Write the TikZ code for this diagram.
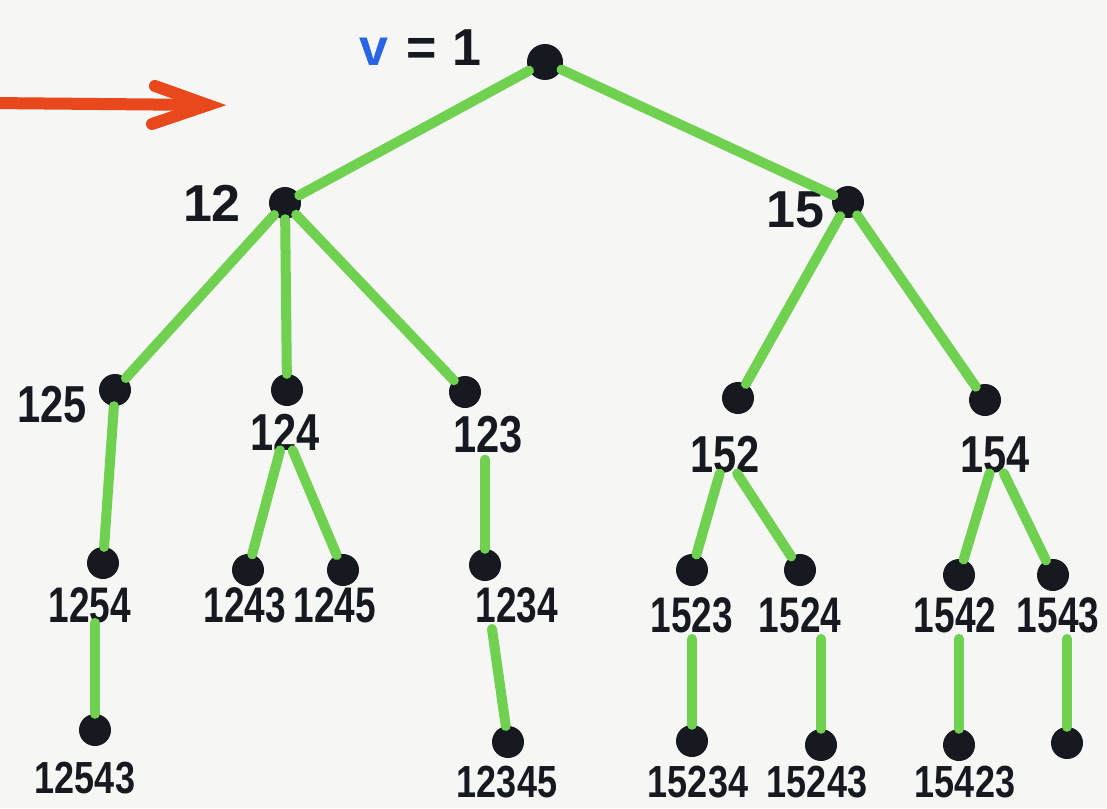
\documentclass[tikz,border=0pt]{standalone}
\usepackage{fontspec}
\setmainfont{Liberation Sans}
\definecolor{edgegreen}{RGB}{112,208,80}
\definecolor{vblue}{RGB}{40,100,230}
\definecolor{arrred}{RGB}{232,72,28}
\definecolor{paper}{RGB}{246,246,244}
\definecolor{ink}{RGB}{22,26,32}
\newcommand\sq[1]{\scalebox{0.8}[1]{#1}}
\newcommand\sqn[1]{\scalebox{0.74}[1]{#1}}
\tikzset{
  dot/.style={circle,fill=ink,inner sep=0pt,minimum size=32pt},
  rootdot/.style={dot,minimum size=36pt},
  lab/.style={font=\bfseries\fontsize{50}{50}\selectfont,inner sep=0pt,text=ink},
  leaflab/.style={font=\bfseries\fontsize{45}{45}\selectfont,inner sep=0pt,text=ink},
  bigl/.style={font=\bfseries\fontsize{52}{52}\selectfont,inner sep=0pt,text=ink},
  edge/.style={draw=edgegreen,line width=10pt,line cap=round},
  redline/.style={draw=arrred,line width=12pt,line cap=round}
}
\begin{document}
\begin{tikzpicture}[x=1pt,y=-1pt]
\fill[paper] (0,0) rectangle (1107,808);
\useasboundingbox (0,0) rectangle (1107,808);
% dots
\node[rootdot] (root) at (545,62) {};
\node[dot] (n12) at (285,203) {};
\node[dot] (n15) at (848,202) {};
\node[dot] (n125) at (115,390) {};
\node[dot] (n124) at (287,390) {};
\node[dot] (n123) at (465,392) {};
\node[dot] (n152) at (738,398) {};
\node[dot] (n154) at (985,400) {};
\node[dot] (n1254) at (103,563) {};
\node[dot] (n1243) at (248,570) {};
\node[dot] (n1245) at (343,570) {};
\node[dot] (n1234) at (485,565) {};
\node[dot] (n1523) at (692,570) {};
\node[dot] (n1524) at (800,570) {};
\node[dot] (n1542) at (959,575) {};
\node[dot] (n1543) at (1053,575) {};
\node[dot] (n12543) at (95,730) {};
\node[dot] (n12345) at (508,742) {};
\node[dot] (n15234) at (692,741) {};
\node[dot] (n15243) at (821,745) {};
\node[dot] (n15423) at (959,745) {};
\node[dot] (n15432) at (1067,743) {};
% labels
\node[bigl,anchor=east] (lroot) at (482,48) {{\color{vblue}v}\hspace{0.35em}=\hspace{0.3em}1};
\node[bigl] (l12) at (212,203) {12};
\node[bigl] (l15) at (795,210) {15};
\node[bigl] (l125) at (52,405) {\sq{125}};
\node[bigl] (l124) at (285,432) {\sq{124}};
\node[bigl] (l123) at (488,435) {\sq{123}};
\node[bigl] (l152) at (725,455) {\sq{152}};
\node[bigl] (l154) at (995,455) {\sq{154}};
\node[lab] (l1254) at (90,605) {\sqn{1254}};
\node[lab] (l1243) at (245,605) {\sqn{1243}};
\node[lab] (l1245) at (335,605) {\sqn{1245}};
\node[lab] (l1234) at (517,605) {\sqn{1234}};
\node[lab] (l1523) at (692,615) {\sqn{1523}};
\node[lab] (l1524) at (800,615) {\sqn{1524}};
\node[lab] (l1542) at (955,615) {\sqn{1542}};
\node[lab] (l1543) at (1058,615) {\sqn{1543}};
\node[leaflab] (l12543) at (85,778) {\sq{12543}};
\node[leaflab] (l12345) at (507,782) {\sq{12345}};
\node[leaflab] (l15234) at (698,782) {\sq{15234}};
\node[leaflab] (l15243) at (817,782) {\sq{15243}};
\node[leaflab] (l15423) at (965,782) {\sq{15423}};
% edges
\draw[edge] (root) -- (n12);
\draw[edge] (root) -- (n15);
\draw[edge] (n12) -- (n125);
\draw[edge] (n12) -- (n124);
\draw[edge] (n12) -- (n123);
\draw[edge] (n15) -- (n152);
\draw[edge] (n15) -- (n154);
\draw[edge] (n125) -- (n1254);
\draw[edge] (l124) -- (n1243);
\draw[edge] (l124) -- (n1245);
\draw[edge] (n1234 |- l123.south) ++(0,6) -- (n1234);
\draw[edge] (l152) -- (n1523);
\draw[edge] (l152) -- (n1524);
\draw[edge] (l154) -- (n1542);
\draw[edge] (l154) -- (n1543);
\draw[edge] (n12543 |- l1254.south) -- (n12543);
\draw[edge] ([xshift=-25pt]l1234.south) ++(0,6) -- (n12345);
\draw[edge] (n15234 |- l1523.south) ++(0,6) -- (n15234);
\draw[edge] (n15243 |- l1524.south) ++(0,6) -- (n15243);
\draw[edge] (n15423 |- l1542.south) ++(0,6) -- (n15423);
\draw[edge] (n15432 |- l1543.south) ++(0,6) -- (n15432);
% red arrow
\coordinate (as) at (-10,103);
\coordinate (ae) at (208,105);
\coordinate (ab1) at (155,86);
\coordinate (ab2) at (152,124);
\draw[redline] (as) -- (ae);
\draw[redline] (ab1) -- (ae) -- (ab2);
\end{tikzpicture}
\end{document}
